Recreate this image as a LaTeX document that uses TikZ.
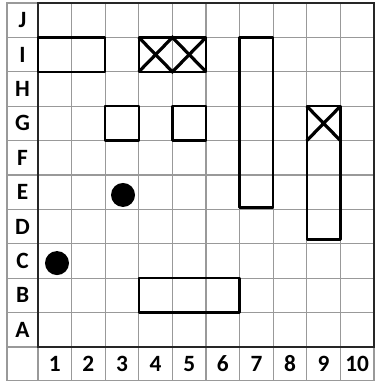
\documentclass[tikz,border=0pt]{standalone}
\usepackage{fontspec}
\setmainfont{Carlito}
\begin{document}
\begin{tikzpicture}[x=25.2pt,y=-25.8pt,
  gridline/.style={draw=black!40,line width=0.8pt},
  frame/.style={draw=black!85,line width=1.3pt},
  shapebox/.style={draw=black,line width=1.9pt,line join=round},
  cross/.style={draw=black,line width=2.4pt},
  dot/.style={circle,fill=black,inner sep=0pt,minimum size=18pt},
  lab/.style={font=\bfseries\fontsize{17.5}{20}\selectfont,inner sep=0pt}]
\useasboundingbox (-1.131,-0.087) rectangle (10.06,11.017);
% label column and row
\draw[gridline] (-0.923,0) rectangle (0,10);
\draw[gridline] (0,10) rectangle (10,10.96);
\draw[gridline] (-0.923,10) -- (-0.923,10.96) -- (0,10.96);
\foreach \i in {1,...,9} {\draw[gridline] (\i,0) -- (\i,10.96);}
\foreach \j in {1,...,9} {\draw[gridline] (-0.923,\j) -- (10,\j);}
\draw[frame] (0,0) rectangle (10,10);
% row labels
\foreach \l [count=\k from 0] in {J,I,H,G,F,E,D,C,B,A}
  {\node[lab] (r\l) at (-0.46,\k+0.5) {\l};}
\foreach \n in {1,...,10}
  {\node[lab] (c\n) at (\n-0.5,10.48) {\n};}
% shapes
\draw[shapebox] (0,1) rectangle (2,2);
\draw[shapebox] (3,1) rectangle (5,2);
\draw[cross] (3,1) -- (4,2) -- (5,1);
\draw[cross] (3,2) -- (4,1) -- (5,2);
\draw[shapebox] (2,3) rectangle (3,4);
\draw[shapebox] (4,3) rectangle (5,4);
\draw[shapebox] (6,1) rectangle (7,5.95);
\draw[shapebox] (8,3) rectangle (9,6.88);
\draw[cross] (8,3) -- (9,4) (9,3) -- (8,4);
\draw[shapebox] (3,8) rectangle (6,9);
\node[dot] (d1) at (2.53,5.58) {};
\node[dot] (d2) at (0.565,7.56) {};
\end{tikzpicture}
\end{document}
